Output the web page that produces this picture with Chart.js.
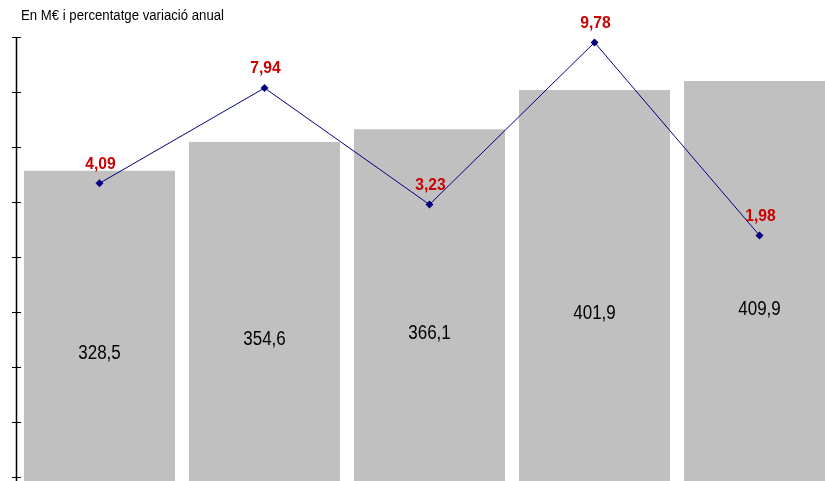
<!DOCTYPE html>
<html>
<head>
<meta charset="utf-8">
<script src="https://cdn.jsdelivr.net/npm/chart.js@4"></script>
<style>
html,body{margin:0;padding:0;background:#fff;overflow:hidden;}
#wrap{width:825px;height:481px;overflow:hidden;position:relative;}
</style>
</head>
<body>
<div id="wrap">
<canvas id="chart" width="850" height="540"></canvas>
</div>
<script>

const years = ["2004","2005","2006","2007","2008"];
const imports = [328.5,354.6,366.1,401.9,409.9];
const change = [4.09,7.94,3.23,9.78,1.98];
const titleText = "En M€ i percentatge variació anual";

const fmt = v => String(v).replace(".",",");
const fmt2 = v => v.toFixed(2).replace(".",",");

/* draws title, left axis, and value labels */
const extras = {
id:"extras",
afterDraw(chart){
const ctx = chart.ctx;
const area = chart.chartArea;
const y = chart.scales.y;

ctx.save();

/* title, slightly condensed */
ctx.font = "14px 'Liberation Sans', Arial, sans-serif";
ctx.fillStyle = "#000";
ctx.textBaseline = "alphabetic";
ctx.textAlign = "left";
let w = ctx.measureText(titleText).width;
ctx.save();
ctx.translate(21,20);
ctx.scale(203/w,1);
ctx.fillText(titleText,0,0);
ctx.restore();

/* left axis line and crossing ticks */
ctx.strokeStyle = "#000";
ctx.lineWidth = 1.5;
ctx.beginPath();
ctx.moveTo(area.left-0.5, area.top);
ctx.lineTo(area.left-0.5, area.bottom);
ctx.stroke();
ctx.lineWidth = 1;
y.ticks.forEach(t=>{
const py = Math.round(y.getPixelForValue(t.value))+0.5;
ctx.beginPath();
ctx.moveTo(area.left-5, py);
ctx.lineTo(area.left+4, py);
ctx.stroke();
});

/* bar value labels */
const barMeta = chart.getDatasetMeta(0);
ctx.font = "20px 'Liberation Sans', Arial, sans-serif";
ctx.textAlign = "center";
ctx.textBaseline = "alphabetic";
barMeta.data.forEach((bar,i)=>{
const p = bar.getProps(["x","y","base"],true);
ctx.save();
ctx.translate(p.x, (p.y+p.base)/2+8);
ctx.scale(0.85,1);
ctx.fillText(fmt(imports[i]),0,0);
ctx.restore();
});

/* line value labels */
const lineMeta = chart.getDatasetMeta(1);
ctx.font = "bold 17px 'Liberation Sans', Arial, sans-serif";
ctx.fillStyle = "#cc0000";
lineMeta.data.forEach((pt,i)=>{
ctx.save();
ctx.translate(pt.x+1, pt.y-14.5);
ctx.scale(0.92,1);
ctx.fillText(fmt2(change[i]),0,0);
ctx.restore();
});

ctx.restore();
}
};

new Chart(
document.getElementById("chart"),
{
type:"bar",
data:{
labels:years,
datasets:[
{
type:"bar",
label:"En M€",
data:imports,
backgroundColor:"#c0c0c0",
borderWidth:0,
barPercentage:0.915,
categoryPercentage:1,
yAxisID:"y",
order:1
},
{
type:"line",
label:"Variació anual",
data:change,
borderColor:"#000080",
borderWidth:1,
backgroundColor:"#000080",
pointStyle:"rectRot",
pointRadius:4,
pointBorderWidth:0,
tension:0,
yAxisID:"y1",
order:0
}
]
},
options:{
responsive:false,
animation:false,
devicePixelRatio:1,
layout:{
padding:{left:17,top:37,right:8,bottom:8}
},
plugins:{
legend:{display:false},
tooltip:{enabled:false}
},
scales:{
x:{display:false},
y:{
display:false,
min:0,
max:450,
ticks:{stepSize:50}
},
y1:{
display:false,
position:"right",
min:-10,
max:10
}
}
},
plugins:[extras]
}
);

</script>
</body>
</html>
